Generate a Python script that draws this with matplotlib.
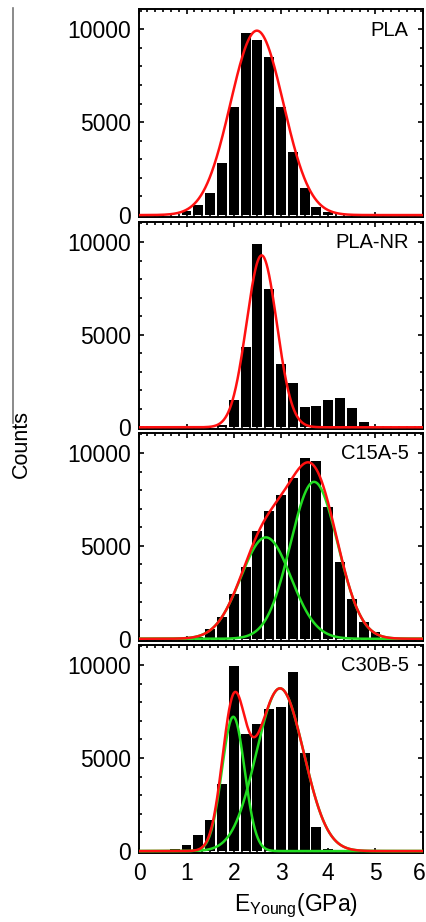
import matplotlib
matplotlib.use("Agg")
import matplotlib.pyplot as plt
from matplotlib.lines import Line2D
from matplotlib.ticker import MultipleLocator, AutoMinorLocator
from matplotlib.transforms import ScaledTranslation
import numpy as np

plt.rcParams["font.family"] = ["Liberation Sans", "DejaVu Sans"]
plt.rcParams["mathtext.fontset"] = "custom"
plt.rcParams["mathtext.rm"] = "Liberation Sans"
plt.rcParams["mathtext.it"] = "Liberation Sans"

# ==========================
# histogram data (bin centre in GPa, counts)
# ==========================

PANEL_NAMES = ["PLA", "PLA-NR", "C15A-5", "C30B-5"]

PLA_BINS = [1.0, 1.25, 1.5, 1.75, 2.0, 2.25, 2.5, 2.75, 3.0, 3.25, 3.5, 3.75, 4.0]
PLA_COUNTS = [230, 540, 1210, 2820, 5800, 9790, 9410, 8500, 5840, 3410, 1450, 460, 140]

PLANR_BINS = [1.75, 2.0, 2.25, 2.5, 2.75, 3.0, 3.25, 3.5, 3.75, 4.0, 4.25, 4.5, 4.75]
PLANR_COUNTS = [140, 1490, 4350, 9890, 7470, 3400, 2390, 1110, 1170, 1490, 1580, 1040, 300]

C15A_BINS = [1.25, 1.5, 1.75, 2.0, 2.25, 2.5, 2.75, 3.0, 3.25, 3.5, 3.75, 4.0,
             4.25, 4.5, 4.75, 5.0, 5.25]
C15A_COUNTS = [100, 500, 1180, 2390, 3860, 5820, 6890, 7750, 8680, 9730, 9590, 7090,
               4140, 2120, 880, 380, 100]

C30B_BINS = [0.75, 1.0, 1.25, 1.5, 1.75, 2.0, 2.25, 2.5, 2.75, 3.0, 3.25, 3.5, 3.75, 4.0]
C30B_COUNTS = [130, 340, 860, 1650, 3600, 9950, 6290, 6850, 7620, 7760, 9640, 5290, 1290, 90]

# ==========================
# gaussian fit components (amplitude, centre, sigma)
# ==========================

PLA_FIT = [(9930, 2.49, 0.56)]
PLANR_FIT = [(9280, 2.59, 0.32)]
C15A_FIT = [(5460, 2.68, 0.53), (8450, 3.70, 0.50)]
C30B_FIT = [(7220, 1.99, 0.24), (8750, 2.98, 0.50)]

PANELS = [
    (PLA_BINS, PLA_COUNTS, PLA_FIT),
    (PLANR_BINS, PLANR_COUNTS, PLANR_FIT),
    (C15A_BINS, C15A_COUNTS, C15A_FIT),
    (C30B_BINS, C30B_COUNTS, C30B_FIT),
]

X_TICKS = [0, 1, 2, 3, 4, 5, 6]
Y_TICKS = [0, 5000, 10000]

# panel top / bottom in pixels (from figure top)
W, H = 427, 922
LEFT_PX, RIGHT_PX = 139.3, 422.7
PANEL_PX = [(9.3, 217.3), (222.0, 429.5), (433.0, 641.0), (645.0, 853.3)]


def gauss(x, a, mu, s):
    return a * np.exp(-0.5 * ((x - mu) / s) ** 2)


fig = plt.figure(figsize=(W / 100, H / 100), dpi=100)
xs = np.linspace(0, 6, 800)

for i, (name, (bins, counts, fit)) in enumerate(zip(PANEL_NAMES, PANELS)):
    top, bot = PANEL_PX[i]
    ax = fig.add_axes([LEFT_PX / W, 1 - bot / H, (RIGHT_PX - LEFT_PX) / W, (bot - top) / H])

    ax.bar(bins, counts, width=0.21, color="black", zorder=2)

    total = np.zeros_like(xs)
    for a, mu, s in fit:
        comp = gauss(xs, a, mu, s)
        total += comp
        if len(fit) > 1:
            ax.plot(xs, comp, color="#22dd22", lw=1.8, zorder=3)
    ax.plot(xs, total, color="#ff1010", lw=1.8, zorder=4)

    ax.set_xlim(0, 6)
    ax.set_ylim(-120, 11080)
    ax.set_xticks(X_TICKS)
    ax.set_yticks(Y_TICKS)
    ax.xaxis.set_minor_locator(AutoMinorLocator(6))
    ax.yaxis.set_minor_locator(MultipleLocator(1000))
    ax.tick_params(which="both", direction="in", top=True, right=True, width=1.2)
    ax.tick_params(which="major", length=3.5, labelsize=16.5, pad=6)
    ax.tick_params(which="minor", length=2)
    for sp in ax.spines.values():
        sp.set_linewidth(1.4)

    if i < len(PANEL_NAMES) - 1:
        ax.set_xticklabels([])
    else:
        # keep the last "6" inside the canvas, as in the original
        last = ax.get_xticklabels()[-1]
        last.set_transform(last.get_transform() + ScaledTranslation(-3.5 / 100, 0, fig.dpi_scale_trans))

    ax.text(0.95, 0.945, name, transform=ax.transAxes, ha="right", va="top", fontsize=14.5)

# y label with the stray rule from the original layout
fig.add_artist(Line2D([13.3 / W, 13.3 / W], [1 - 8 / H, 1 - 423 / H],
                      color="#777777", lw=1.2, transform=fig.transFigure))
fig.text(21 / W, 1 - 444 / H, "Counts", rotation=90, ha="center", va="center", fontsize=15.5)

fig.text(296 / W, 1 - 906 / H, r"E$_{\mathrm{Young}}$(GPa)", ha="center", va="center", fontsize=16.5)

fig.savefig("out.png", dpi=100)
plt.close(fig)
